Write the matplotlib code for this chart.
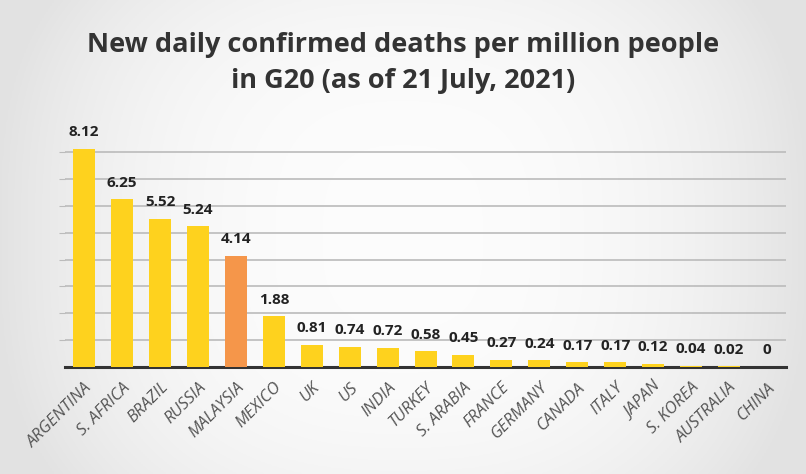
import numpy as np
import matplotlib.pyplot as plt

plt.rcParams['font.family'] = ['Open Sans', 'DejaVu Sans']

countries = ['ARGENTINA', 'S. AFRICA', 'BRAZIL', 'RUSSIA', 'MALAYSIA', 'MEXICO',
             'UK', 'US', 'INDIA', 'TURKEY', 'S. ARABIA', 'FRANCE', 'GERMANY',
             'CANADA', 'ITALY', 'JAPAN', 'S. KOREA', 'AUSTRALIA', 'CHINA']
deaths = [8.12, 6.25, 5.52, 5.24, 4.14, 1.88, 0.81, 0.74, 0.72, 0.58, 0.45,
          0.27, 0.24, 0.17, 0.17, 0.12, 0.04, 0.02, 0]
labels = ['8.12', '6.25', '5.52', '5.24', '4.14', '1.88', '0.81', '0.74', '0.72',
          '0.58', '0.45', '0.27', '0.24', '0.17', '0.17', '0.12', '0.04', '0.02', '0']
highlight = 'MALAYSIA'

fig = plt.figure(figsize=(8.06, 4.74), dpi=100)

# soft grey background, lighter in the middle
bg = fig.add_axes([0, 0, 1, 1], zorder=-1)
xx = np.linspace(-1, 1, 400)
yy = np.linspace(-1, 1, 240)
X, Y = np.meshgrid(xx, yy)
shade = 0.99 - 0.10 * np.clip(np.abs(X) ** 2.5 + 0.3 * np.abs(Y) ** 3, 0, 1)
bg.imshow(np.dstack([shade] * 3), aspect='auto', extent=[0, 1, 0, 1])
bg.axis('off')

ax = fig.add_axes([0.081, 0.226, 0.894, 0.509])
ax.patch.set_alpha(0)

x = np.arange(len(countries))
colors = ['#f5964a' if c == highlight else '#fed21e' for c in countries]
ax.bar(x, deaths, width=0.58, color=colors, zorder=3)

for xi, v, lab in zip(x, deaths, labels):
    ax.annotate(lab, (xi, v), xytext=(0, 7), textcoords='offset points',
                ha='center', va='bottom', fontsize=11, fontweight='bold',
                color='#222222')

ax.set_xlim(-0.5, len(countries) - 0.5)
ax.set_ylim(0, 9)
ax.set_yticks(np.arange(1, 9))
ax.set_yticklabels([])
ax.tick_params(axis='y', length=4, color='#bbbbbb')
ax.grid(axis='y', color='#bbbbbb', linewidth=1.2, zorder=0)
ax.set_xticks(x)
ax.set_xticklabels(countries, rotation=45, ha='right', rotation_mode='anchor',
                   fontsize=12, color='#555555', style='italic')
ax.tick_params(axis='x', length=0, pad=9)
for s in ['top', 'right', 'left']:
    ax.spines[s].set_visible(False)
ax.spines['bottom'].set_color('#333333')
ax.spines['bottom'].set_linewidth(2.2)

fig.text(0.5, 0.905, 'New daily confirmed deaths per million people',
         ha='center', va='center', fontsize=19.5, fontweight='bold', color='#333333')
fig.text(0.5, 0.83, 'in G20 (as of 21 July, 2021)',
         ha='center', va='center', fontsize=19.5, fontweight='bold', color='#333333')

fig.savefig('out.png', dpi=100)
